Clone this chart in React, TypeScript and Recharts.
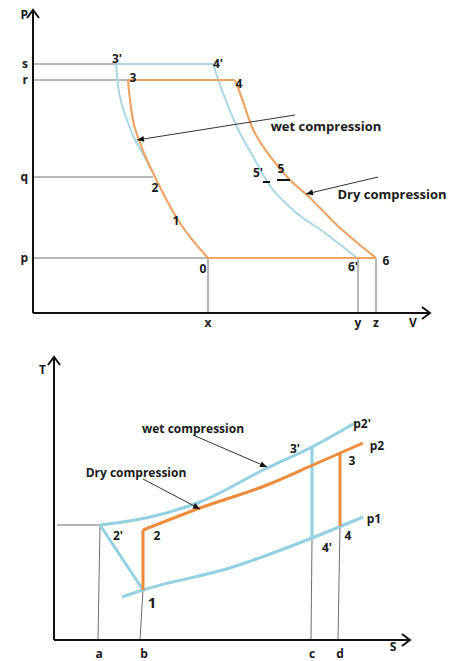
import { ComposedChart, Line, Scatter, XAxis, YAxis, ReferenceDot } from "recharts"

type Pt = { x: number; y: number }
type Tag = { x: number; y: number; text: string }

const INK = "#111"
const GUIDE = "#6f6f6f"
const PV_ORANGE = "#eba566"
const PV_BLUE = "#a9d7e3"
const TS_ORANGE = "#ee8a3a"
const TS_BLUE = "#93d0e2"

// ---- P-V diagram (x = V, y = P) ----
const pvTicksV = [175, 325, 343, 380]
const pvTicksVText = ["x", "y", "z", "V"]
const pvTicksP = [55, 136, 233, 249, 298]
const pvTicksPText = ["p", "q", "r", "s", "P"]

const pvGuides: Pt[][] = [
  [{ x: 0, y: 249 }, { x: 83, y: 249 }],
  [{ x: 0, y: 233 }, { x: 95, y: 233 }],
  [{ x: 0, y: 136 }, { x: 120, y: 136 }],
  [{ x: 0, y: 55 }, { x: 175, y: 55 }],
  [{ x: 175, y: 55 }, { x: 175, y: 0 }],
  [{ x: 325, y: 55 }, { x: 325, y: 0 }],
  [{ x: 343, y: 55 }, { x: 343, y: 0 }],
]

const pvBlueTop: Pt[] = [{ x: 83, y: 249 }, { x: 180, y: 249 }]
const pvBlueLeft: Pt[] = [
  { x: 83, y: 249 }, { x: 85, y: 228 }, { x: 89, y: 208 }, { x: 94, y: 193 },
  { x: 102, y: 173 }, { x: 111, y: 157 }, { x: 120, y: 141 },
]
const pvBlueRight: Pt[] = [
  { x: 180, y: 249 }, { x: 190, y: 220 }, { x: 204, y: 186 }, { x: 222, y: 153 },
  { x: 235, y: 130 }, { x: 260, y: 103 }, { x: 292, y: 80 }, { x: 324, y: 55 },
]

const pvOrangeTop: Pt[] = [{ x: 95, y: 233 }, { x: 202, y: 233 }]
const pvOrangeLeft: Pt[] = [
  { x: 95, y: 233 }, { x: 97, y: 213 }, { x: 100, y: 193 }, { x: 106, y: 173 },
  { x: 113, y: 155 }, { x: 122, y: 136 }, { x: 145, y: 93 }, { x: 175, y: 55 },
]
const pvOrangeRight: Pt[] = [
  { x: 202, y: 233 }, { x: 207, y: 220 }, { x: 219, y: 186 }, { x: 240, y: 153 },
  { x: 257, y: 133 }, { x: 274, y: 118 }, { x: 305, y: 87 }, { x: 343, y: 55 },
]
const pvOrangeBase: Pt[] = [{ x: 175, y: 55 }, { x: 343, y: 55 }]

const pvDashes: Pt[][] = [
  [{ x: 230, y: 131 }, { x: 237, y: 131 }],
  [{ x: 244, y: 133 }, { x: 257, y: 133 }],
]

const pvArrows: Pt[][] = [
  [{ x: 262, y: 198 }, { x: 104, y: 173 }],
  [{ x: 345, y: 136 }, { x: 273, y: 119 }],
]

const pvNotes: Tag[] = [
  { x: 293, y: 187, text: "wet compression" },
  { x: 359, y: 119, text: "Dry compression" },
]

const pvPoints: Tag[] = [
  { x: 84, y: 255, text: "3'" },
  { x: 185, y: 250, text: "4'" },
  { x: 100, y: 236, text: "3" },
  { x: 206, y: 230, text: "4" },
  { x: 225, y: 141, text: "5'" },
  { x: 248, y: 145, text: "5" },
  { x: 122, y: 126, text: "2" },
  { x: 143, y: 93, text: "1" },
  { x: 170, y: 45, text: "0" },
  { x: 320, y: 47, text: "6'" },
  { x: 353, y: 53, text: "6" },
]

// ---- T-S diagram (x = S, y = T) ----
const tsTicksS = [45, 90, 258, 286, 339]
const tsTicksSText = ["a", "b", "c", "d", "S"]
const tsTicksT = [270]
const tsTicksTText = ["T"]

const tsGuides: Pt[][] = [
  [{ x: 3, y: 115 }, { x: 46, y: 115 }],
  [{ x: 46, y: 115 }, { x: 44, y: 0 }],
  [{ x: 89, y: 50 }, { x: 86, y: 0 }],
  [{ x: 258, y: 102 }, { x: 257, y: 0 }],
  [{ x: 286, y: 114 }, { x: 284, y: 0 }],
]

const tsBlueP2: Pt[] = [
  { x: 46, y: 115 }, { x: 96, y: 123 }, { x: 146, y: 138 }, { x: 213, y: 172 },
  { x: 258, y: 193 }, { x: 301, y: 217 },
]
const tsBlueP1: Pt[] = [
  { x: 68, y: 43 }, { x: 89, y: 50 }, { x: 179, y: 73 }, { x: 258, y: 102 }, { x: 309, y: 123 },
]
const tsBlueWet: Pt[] = [{ x: 46, y: 115 }, { x: 89, y: 50 }]
const tsBlueC: Pt[] = [{ x: 258, y: 193 }, { x: 258, y: 102 }]

const tsOrangeP2: Pt[] = [
  { x: 89, y: 110 }, { x: 146, y: 132 }, { x: 213, y: 155 }, { x: 259, y: 175 }, { x: 309, y: 197 },
]
const tsOrangeB: Pt[] = [{ x: 89, y: 50 }, { x: 89, y: 110 }]
const tsOrangeD: Pt[] = [{ x: 286, y: 187 }, { x: 286, y: 114 }]

const tsArrows: Pt[][] = [
  [{ x: 139, y: 205 }, { x: 213, y: 173 }],
  [{ x: 89, y: 161 }, { x: 146, y: 131 }],
]

const tsNotes: Tag[] = [
  { x: 139, y: 212, text: "wet compression" },
  { x: 82, y: 168, text: "Dry compression" },
]

const tsPoints: Tag[] = [
  { x: 308, y: 217, text: "p2'" },
  { x: 323, y: 195, text: "p2" },
  { x: 320, y: 122, text: "p1" },
  { x: 241, y: 192, text: "3'" },
  { x: 298, y: 180, text: "3" },
  { x: 64, y: 105, text: "2'" },
  { x: 103, y: 105, text: "2" },
  { x: 273, y: 93, text: "4'" },
  { x: 294, y: 105, text: "4" },
]
const tsBigPoints: Tag[] = [{ x: 98, y: 38, text: "1" }]

// one chart unit is one pixel on both axes, so arrow angles come straight from the data
function arrowDot(pts: Pt[]) {
  const a = pts[pts.length - 2]
  const b = pts[pts.length - 1]
  const ang = Math.atan2(-(b.y - a.y), b.x - a.x)
  return (props: any) => {
    if (props.index !== pts.length - 1) return <g key={props.index} />
    const { cx, cy } = props
    const bx = cx - 7 * Math.cos(ang)
    const by = cy - 7 * Math.sin(ang)
    const px = -Math.sin(ang) * 3
    const py = Math.cos(ang) * 3
    return (
      <path key="head" d={`M${cx},${cy}L${bx + px},${by + py}L${bx - px},${by - py}Z`} fill={INK} />
    )
  }
}

const chevronUp = (props: any) => (
  <polyline
    points={`${props.cx - 6},${props.cy + 8} ${props.cx},${props.cy} ${props.cx + 6},${props.cy + 8}`}
    fill="none"
    stroke={INK}
    strokeWidth={2}
  />
)
const chevronRight = (props: any) => (
  <polyline
    points={`${props.cx - 8},${props.cy - 6} ${props.cx},${props.cy} ${props.cx - 8},${props.cy + 6}`}
    fill="none"
    stroke={INK}
    strokeWidth={2}
  />
)

const tagShape = (size: number) => (props: any) => (
  <text
    x={props.cx}
    y={props.cy}
    textAnchor="middle"
    dominantBaseline="central"
    fontSize={size}
    fontWeight={700}
    fill="#1a1a1a"
  >
    {props.payload.text}
  </text>
)

// bottom axis tick; the axis name (last tick) sits a little higher than the letters
const sTick = (props: any) => {
  const i = tsTicksS.indexOf(props.payload.value)
  const lift = i === tsTicksS.length - 1 ? -7 : 0
  return (
    <text
      x={props.x}
      y={props.y + lift}
      dy="0.71em"
      textAnchor="middle"
      fontSize={12}
      fontWeight={700}
      fill="#1a1a1a"
    >
      {tsTicksSText[i]}
    </text>
  )
}

const seg = (pts: Pt[], color: string, width: number, key: string, curved = false) => (
  <Line
    key={key}
    data={pts}
    dataKey="y"
    type={curved ? "monotone" : "linear"}
    stroke={color}
    strokeWidth={width}
    dot={false}
    activeDot={false}
    legendType="none"
    isAnimationActive={false}
  />
)

const arrow = (pts: Pt[], key: string) => (
  <Line
    key={key}
    data={pts}
    dataKey="y"
    type="linear"
    stroke="#333"
    strokeWidth={1}
    dot={arrowDot(pts)}
    activeDot={false}
    legendType="none"
    isAnimationActive={false}
  />
)

const tickStyle = { fill: "#1a1a1a", fontSize: 12, fontWeight: 700 }

function PVChart() {
  return (
    <ComposedChart width={457} height={340} margin={{ top: 10, right: 27, bottom: 0, left: 0 }}>
      <XAxis
        type="number"
        dataKey="x"
        domain={[0, 397]}
        ticks={pvTicksV}
        interval={0}
        tickFormatter={(v) => pvTicksVText[pvTicksV.indexOf(v)]}
        height={27}
        axisLine={{ stroke: INK, strokeWidth: 2 }}
        tickLine={false}
        tickSize={0}
        tickMargin={5}
        tick={tickStyle}
      />
      <YAxis
        type="number"
        dataKey="y"
        domain={[0, 303]}
        ticks={pvTicksP}
        interval={0}
        tickFormatter={(v) => pvTicksPText[pvTicksP.indexOf(v)]}
        width={33}
        axisLine={{ stroke: INK, strokeWidth: 2 }}
        tickLine={false}
        tickSize={0}
        tickMargin={5}
        tick={tickStyle}
      />
      {pvGuides.map((g, i) => seg(g, GUIDE, 1, `pg${i}`))}
      {seg(pvBlueTop, PV_BLUE, 2, "pbt")}
      {seg(pvBlueLeft, PV_BLUE, 2, "pbl", true)}
      {seg(pvBlueRight, PV_BLUE, 2, "pbr", true)}
      {seg(pvOrangeTop, PV_ORANGE, 2.2, "pot")}
      {seg(pvOrangeLeft, PV_ORANGE, 2.2, "pol", true)}
      {seg(pvOrangeRight, PV_ORANGE, 2.2, "por", true)}
      {seg(pvOrangeBase, PV_ORANGE, 2.2, "pob")}
      {pvDashes.map((d, i) => seg(d, INK, 2, `pd${i}`))}
      {pvArrows.map((a, i) => arrow(a, `pa${i}`))}
      <Scatter data={pvNotes} shape={tagShape(13)} legendType="none" isAnimationActive={false} />
      <Scatter data={pvPoints} shape={tagShape(12)} legendType="none" isAnimationActive={false} />
      <ReferenceDot x={0} y={303} shape={chevronUp} />
      <ReferenceDot x={397} y={0} shape={chevronRight} />
    </ComposedChart>
  )
}

function TSChart() {
  return (
    <ComposedChart width={457} height={321} margin={{ top: 17, right: 47, bottom: 0, left: 0 }}>
      <XAxis
        type="number"
        dataKey="x"
        domain={[0, 356]}
        ticks={tsTicksS}
        interval={0}
        height={21}
        axisLine={{ stroke: INK, strokeWidth: 2 }}
        tickLine={false}
        tickSize={0}
        tickMargin={9}
        tick={sTick}
      />
      <YAxis
        type="number"
        dataKey="y"
        domain={[0, 283]}
        ticks={tsTicksT}
        interval={0}
        tickFormatter={(v) => tsTicksTText[tsTicksT.indexOf(v)]}
        width={54}
        axisLine={{ stroke: INK, strokeWidth: 2 }}
        tickLine={false}
        tickSize={0}
        tickMargin={8}
        tick={tickStyle}
      />
      {tsGuides.map((g, i) => seg(g, GUIDE, 1, `tg${i}`))}
      {seg(tsBlueP1, TS_BLUE, 3, "tb1", true)}
      {seg(tsBlueP2, TS_BLUE, 3, "tb2", true)}
      {seg(tsBlueWet, TS_BLUE, 3, "tbw")}
      {seg(tsBlueC, TS_BLUE, 3, "tbc")}
      {seg(tsOrangeP2, TS_ORANGE, 3, "to2", true)}
      {seg(tsOrangeB, TS_ORANGE, 3, "tob")}
      {seg(tsOrangeD, TS_ORANGE, 3, "tod")}
      {tsArrows.map((a, i) => arrow(a, `ta${i}`))}
      <Scatter data={tsNotes} shape={tagShape(12)} legendType="none" isAnimationActive={false} />
      <Scatter data={tsPoints} shape={tagShape(12)} legendType="none" isAnimationActive={false} />
      <Scatter data={tsBigPoints} shape={tagShape(15)} legendType="none" isAnimationActive={false} />
      <ReferenceDot x={0} y={283} shape={chevronUp} />
      <ReferenceDot x={356} y={0} shape={chevronRight} />
    </ComposedChart>
  )
}

export default function App() {
  return (
    <div
      style={{
        position: "absolute",
        top: 0,
        left: 0,
        width: 457,
        height: 661,
        background: "#fff",
        fontFamily: "'Open Sans', 'DejaVu Sans', sans-serif",
      }}
    >
      <PVChart />
      <TSChart />
    </div>
  )
}
